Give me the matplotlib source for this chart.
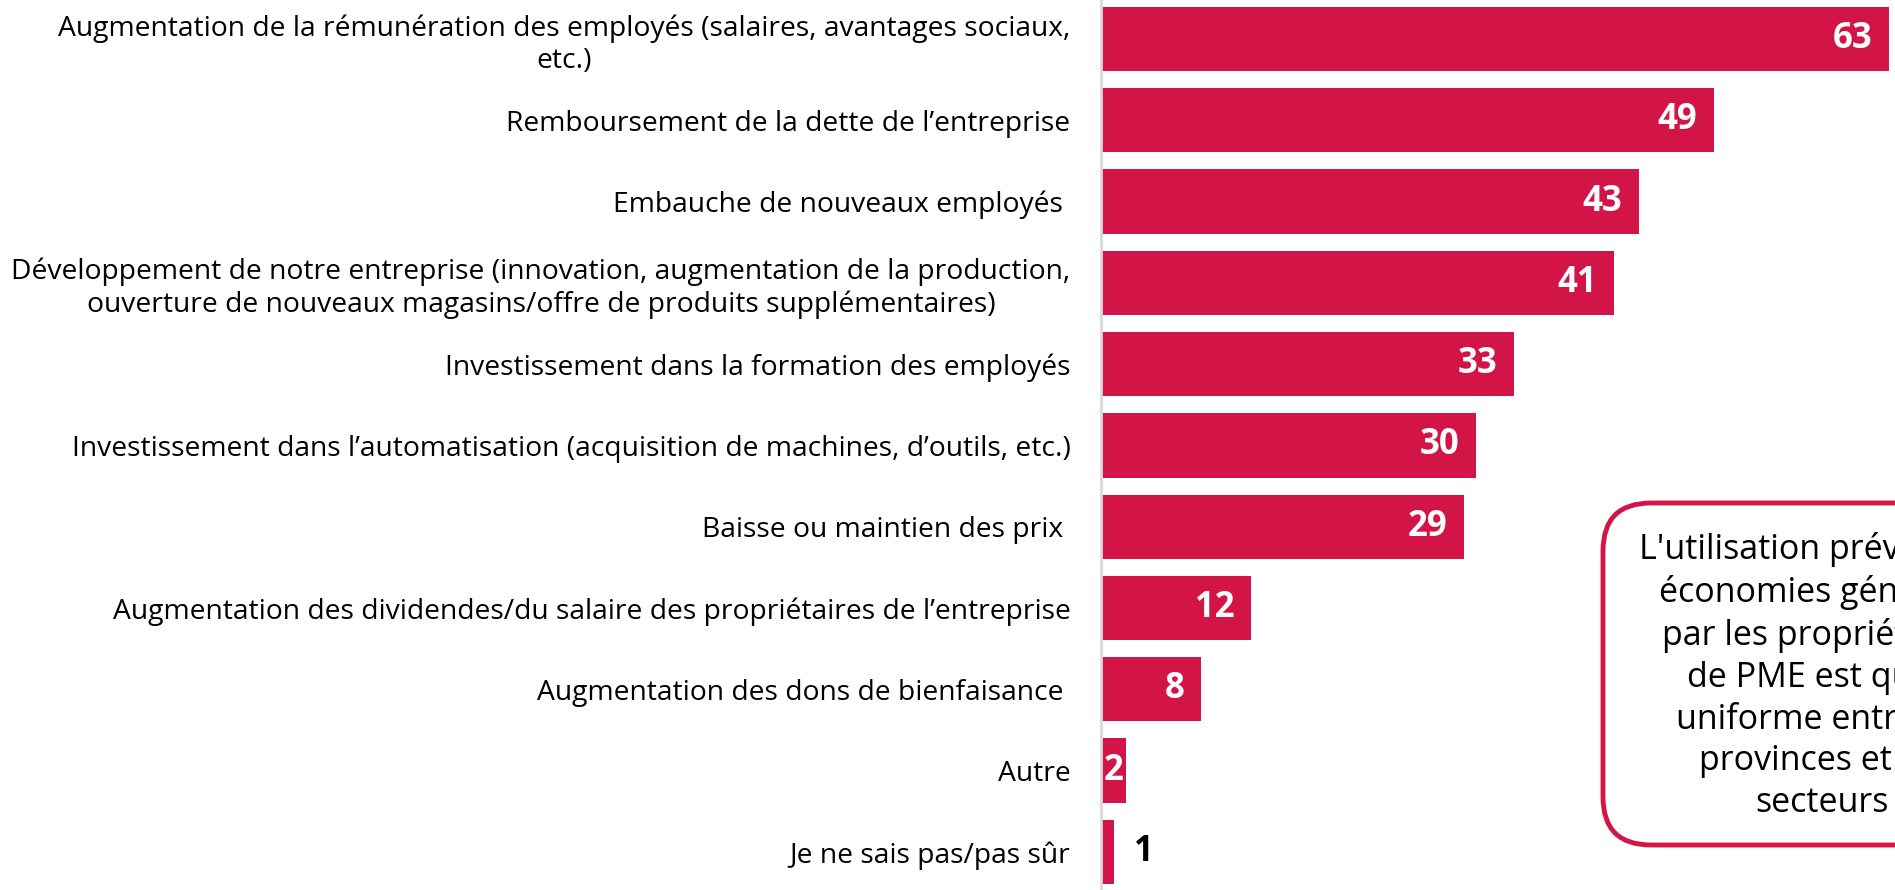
import matplotlib.pyplot as plt
from matplotlib.patches import FancyBboxPatch

categories = [
    "Augmentation de la rémunération des employés (salaires, avantages sociaux,\netc.)",
    "Remboursement de la dette de l’entreprise",
    "Embauche de nouveaux employés ",
    "Développement de notre entreprise (innovation, augmentation de la production,\n"
    "ouverture de nouveaux magasins/offre de produits supplémentaires)",
    "Investissement dans la formation des employés",
    "Investissement dans l’automatisation (acquisition de machines, d’outils, etc.)",
    "Baisse ou maintien des prix ",
    "Augmentation des dividendes/du salaire des propriétaires de l’entreprise",
    "Augmentation des dons de bienfaisance ",
    "Autre",
    "Je ne sais pas/pas sûr",
]
values = [63, 49, 43, 41, 33, 30, 29, 12, 8, 2, 1]

note = ("L'utilisation prévue des\néconomies générées\npar les propriétaires\n"
        "de PME est quasi\nuniforme entre les\nprovinces et les\nsecteurs")

bar_color = "#D31446"
plt.rcParams['font.family'] = ['Open Sans', 'DejaVu Sans']

fig = plt.figure(figsize=(18.95, 8.9), dpi=100)
ax = fig.add_axes([1101 / 1895, 0, 1 - 1101 / 1895, 1])

pos = list(range(len(values)))
ax.barh(pos, values, height=0.79, color=bar_color, zorder=2)
ax.set_xlim(0, 63.5)
ax.set_ylim(10.47, -0.48)

ax.set_yticks(pos)
ax.set_yticklabels(categories, fontsize=20.3, multialignment='center')
ax.tick_params(axis='y', length=0, pad=22)
ax.set_xticks([])

for s in ['top', 'right', 'bottom']:
    ax.spines[s].set_visible(False)
ax.spines['left'].set_color('#d9d9d9')
ax.spines['left'].set_linewidth(2)

px_per_unit = (1895 - 1101) / 63.5
for p, v in zip(pos, values):
    w = v * px_per_unit
    if w > 60:
        ax.annotate(str(v), (v, p), xytext=(-12, 0), textcoords='offset points',
                    ha='right', va='center', color='white', fontsize=25,
                    fontweight='bold')
    elif w > 20:
        ax.text(v / 2, p, str(v), ha='center', va='center', color='white',
                fontsize=25, fontweight='bold')
    else:
        ax.annotate(str(v), (v, p), xytext=(15, 0), textcoords='offset points',
                    ha='left', va='center', color='black', fontsize=25,
                    fontweight='bold')

box = FancyBboxPatch((1603, 45), 520, 342,
                     boxstyle='round,pad=0,rounding_size=48',
                     transform=None, facecolor='white', edgecolor=bar_color,
                     linewidth=3.5, zorder=5)
fig.patches.append(box)
fig.text(1822 / 1895, 214 / 890, note, ha='center', va='center',
         fontsize=24.5, linespacing=1.3, color='black', zorder=6)

fig.savefig('out.png', dpi=100)
